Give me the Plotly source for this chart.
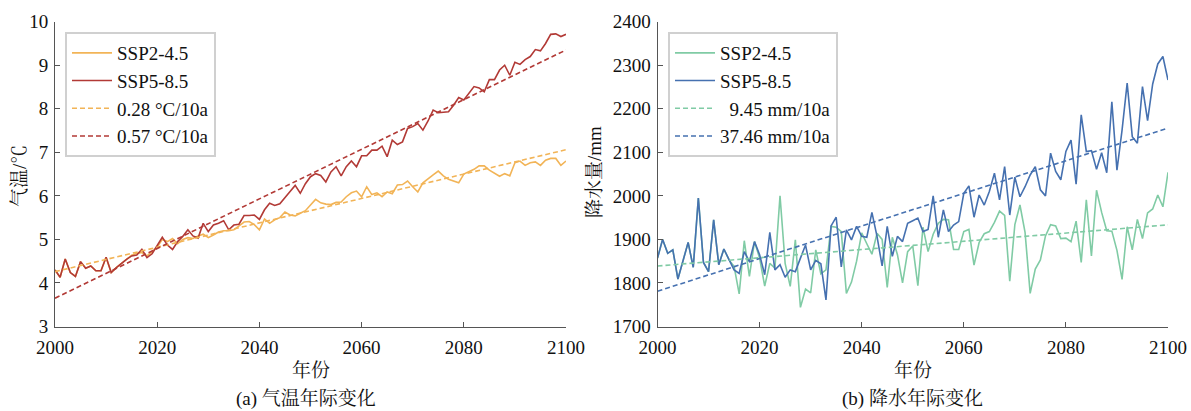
import plotly.graph_objects as go

# ---------------- data ----------------
years = list(range(2000, 2101))

# shared historical period 2000-2014 (both scenarios identical)
hist_temp = [4.30, 4.13, 4.55, 4.24, 4.15, 4.49, 4.34, 4.39, 4.28, 4.28,
             4.59, 4.24, 4.35, 4.45, 4.54]
# 2015-2100
ssp245_temp = [4.64, 4.68, 4.70, 4.62, 4.72,
               4.82, 5.00, 4.95, 5.02, 4.90, 5.00, 5.04, 5.02, 5.08, 5.12,
               5.04, 5.10, 5.17, 5.20, 5.20, 5.22, 5.30, 5.40, 5.41, 5.34,
               5.22, 5.47, 5.37, 5.45, 5.50, 5.63, 5.56, 5.54, 5.60, 5.66,
               5.79, 5.92, 5.84, 5.81, 5.80, 5.85, 5.86, 5.98, 6.07, 6.11,
               5.98, 6.21, 6.03, 6.07, 5.98, 6.09, 6.05, 6.25, 6.26, 6.34,
               6.21, 6.09, 6.30, 6.40, 6.48, 6.57, 6.46, 6.38, 6.34, 6.30,
               6.50, 6.55, 6.61, 6.69, 6.69, 6.59, 6.51, 6.45, 6.51, 6.46,
               6.76, 6.80, 6.70, 6.76, 6.78, 6.70, 6.82, 6.86, 6.86, 6.70,
               6.80]
ssp585_temp = [4.62, 4.64, 4.77, 4.58, 4.67,
               4.87, 5.05, 4.87, 4.77, 4.95, 5.07, 5.22, 5.08, 5.03, 5.37,
               5.18, 5.33, 5.37, 5.43, 5.22, 5.33, 5.35, 5.55, 5.55, 5.56,
               5.46, 5.68, 5.83, 5.78, 5.82, 5.95, 6.10, 6.24, 6.06, 6.28,
               6.44, 6.51, 6.47, 6.32, 6.55, 6.67, 6.46, 6.67, 6.80, 6.67,
               6.92, 6.92, 7.05, 7.05, 7.14, 6.90, 7.28, 7.18, 7.24, 7.55,
               7.59, 7.66, 7.51, 7.72, 7.97, 7.91, 7.92, 7.93, 8.08, 8.26,
               8.20, 8.35, 8.51, 8.48, 8.39, 8.67, 8.67, 8.89, 9.00, 8.77,
               9.07, 9.02, 9.13, 9.20, 9.36, 9.33, 9.50, 9.71, 9.72, 9.66,
               9.71]

hist_prec = [1857, 1900, 1868, 1876, 1809, 1853, 1893, 1836, 1995, 1847,
             1826, 1945, 1842, 1878, 1853]
ssp245_prec = [1838, 1775, 1897, 1815, 1895,
               1857, 1793, 1845, 1834, 2000, 1845, 1792, 1899, 1744, 1786,
               1777, 1876, 1821, 1830, 1930, 1928, 1918, 1776, 1802, 1850,
               1915, 1890, 1866, 1914, 1900, 1790, 1905, 1865, 1800, 1872,
               1885, 1794, 1928, 1872, 1912, 1937, 1946, 1945, 1877, 1877,
               1918, 1923, 1841, 1893, 1913, 1918, 1939, 1965, 1955, 1804,
               1934, 1979, 1916, 1776, 1832, 1853, 1908, 1934, 1931, 1902,
               1903, 1895, 1942, 1847, 1991, 1862, 2013, 1962, 1920, 1919,
               1875, 1808, 1929, 1876, 1946, 1902, 1961, 1970, 2002, 1975,
               2054]
ssp585_prec = [1830, 1822, 1872, 1849, 1895,
               1865, 1819, 1916, 1830, 1842, 1813, 1830, 1826, 1857, 1887,
               1830, 1852, 1844, 1761, 1931, 1951, 1837, 1922, 1899, 1930,
               1907, 1905, 1962, 1907, 1839, 1930, 1861, 1907, 1895, 1937,
               1943, 1949, 1918, 1923, 2000, 1905, 1968, 1918, 1933, 1941,
               2006, 2023, 1951, 2002, 1979, 2010, 2052, 1991, 2067, 1956,
               2043, 1998, 2021, 2048, 2067, 2014, 2000, 2098, 2056, 2037,
               2102, 2128, 2027, 2186, 2102, 2104, 2061, 2099, 2053, 2216,
               2059, 2151, 2259, 2136, 2121, 2251, 2173, 2257, 2303, 2320,
               2266]

# linear trends: value at 2000 and slope per year
temp_trend_start = [4.26, 3.65]
temp_trend_slope = [0.028, 0.057]
prec_trend_start = [1839, 1781]
prec_trend_slope = [0.945, 3.746]

scenario_names = ["SSP2-4.5", "SSP5-8.5"]
temp_trend_labels = ["0.28 °C/10a", "0.57 °C/10a"]
prec_trend_labels = ["\u00a0\u00a09.45 mm/10a", "37.46 mm/10a"]

temp_colors = ["#F2B457", "#B23A36"]
prec_colors = ["#80CBA5", "#4671B0"]

# ---------------- figure ----------------
W, H = 1191, 411
FONT = "Liberation Serif, Times New Roman, Noto Serif CJK SC, Noto Sans CJK SC, serif"
FS = 19

temp_series = [hist_temp + ssp245_temp, hist_temp + ssp585_temp]
prec_series = [hist_prec + ssp245_prec, hist_prec + ssp585_prec]

fig = go.Figure()

for i in range(2):
    fig.add_trace(go.Scatter(x=years, y=temp_series[i], mode="lines",
                             name=scenario_names[i], legend="legend",
                             line=dict(color=temp_colors[i], width=1.6),
                             xaxis="x", yaxis="y"))
for i in range(2):
    ty = [temp_trend_start[i] + temp_trend_slope[i] * (yv - years[0]) for yv in years]
    fig.add_trace(go.Scatter(x=years, y=ty, mode="lines",
                             name=temp_trend_labels[i], legend="legend",
                             line=dict(color=temp_colors[i], width=1.6, dash="5px,3px"),
                             xaxis="x", yaxis="y"))

for i in range(2):
    fig.add_trace(go.Scatter(x=years, y=prec_series[i], mode="lines",
                             name=scenario_names[i], legend="legend2",
                             line=dict(color=prec_colors[i], width=1.6),
                             xaxis="x2", yaxis="y2"))
for i in range(2):
    py = [prec_trend_start[i] + prec_trend_slope[i] * (yv - years[0]) for yv in years]
    fig.add_trace(go.Scatter(x=years, y=py, mode="lines",
                             name=prec_trend_labels[i], legend="legend2",
                             line=dict(color=prec_colors[i], width=1.6, dash="5px,3px"),
                             xaxis="x2", yaxis="y2"))

ytop, ybot = 21.7, 326.5
ydom = [1 - ybot / H, 1 - ytop / H]
xdom1 = [55 / W, 566 / W]
xdom2 = [657.5 / W, 1168 / W]

axis_common = dict(showline=True, linecolor="#555", linewidth=1, ticks="inside",
                   ticklen=5, tickcolor="#555", tickwidth=1, showgrid=False,
                   zeroline=False, mirror=False, automargin=False,
                   tickfont=dict(family=FONT, size=FS, color="#111"))

legend_common = dict(bgcolor="white", bordercolor="#D0D0D0", borderwidth=2,
                     font=dict(family=FONT, size=FS, color="#111"),
                     xanchor="left", yanchor="top", itemwidth=40)

fig.update_layout(
    width=W, height=H, margin=dict(l=0, r=0, t=0, b=0, autoexpand=False),
    paper_bgcolor="white", plot_bgcolor="white", showlegend=True,
    font=dict(family=FONT, size=FS, color="#111"),
    xaxis=dict(domain=xdom1, anchor="y", range=[2000, 2100], tickvals=[2000, 2020, 2040, 2060, 2080, 2100],
               ticklabelstandoff=4, **axis_common),
    yaxis=dict(domain=ydom, anchor="x", range=[3, 10], dtick=1, ticklabelstandoff=2, **axis_common),
    xaxis2=dict(domain=xdom2, anchor="y2", range=[2000, 2100], tickvals=[2000, 2020, 2040, 2060, 2080, 2100],
                ticklabelstandoff=4, **axis_common),
    yaxis2=dict(domain=ydom, anchor="x2", range=[1700, 2400], dtick=100, ticklabelstandoff=2, **axis_common),
    legend=dict(x=65 / W, y=1 - 32 / H, **legend_common),
    legend2=dict(x=668 / W, y=1 - 32 / H, **legend_common),
)

ann_font = dict(family=FONT, size=FS, color="#111")
annotations = [
    dict(text="年份", x=310.5 / W, y=1 - 370 / H),
    dict(text="(a) 气温年际变化", x=306 / W, y=1 - 399 / H),
    dict(text="年份", x=912.7 / W, y=1 - 370 / H),
    dict(text="(b) 降水年际变化", x=912 / W, y=1 - 399 / H),
    dict(text="气温/℃", x=20 / W, y=1 - 176 / H, textangle=-90),
    dict(text="降水量/mm", x=595 / W, y=1 - 172 / H, textangle=-90),
]
for a in annotations:
    fig.add_annotation(xref="paper", yref="paper", xanchor="center", yanchor="middle",
                       showarrow=False, font=ann_font, **a)

fig.write_html("out.html")
